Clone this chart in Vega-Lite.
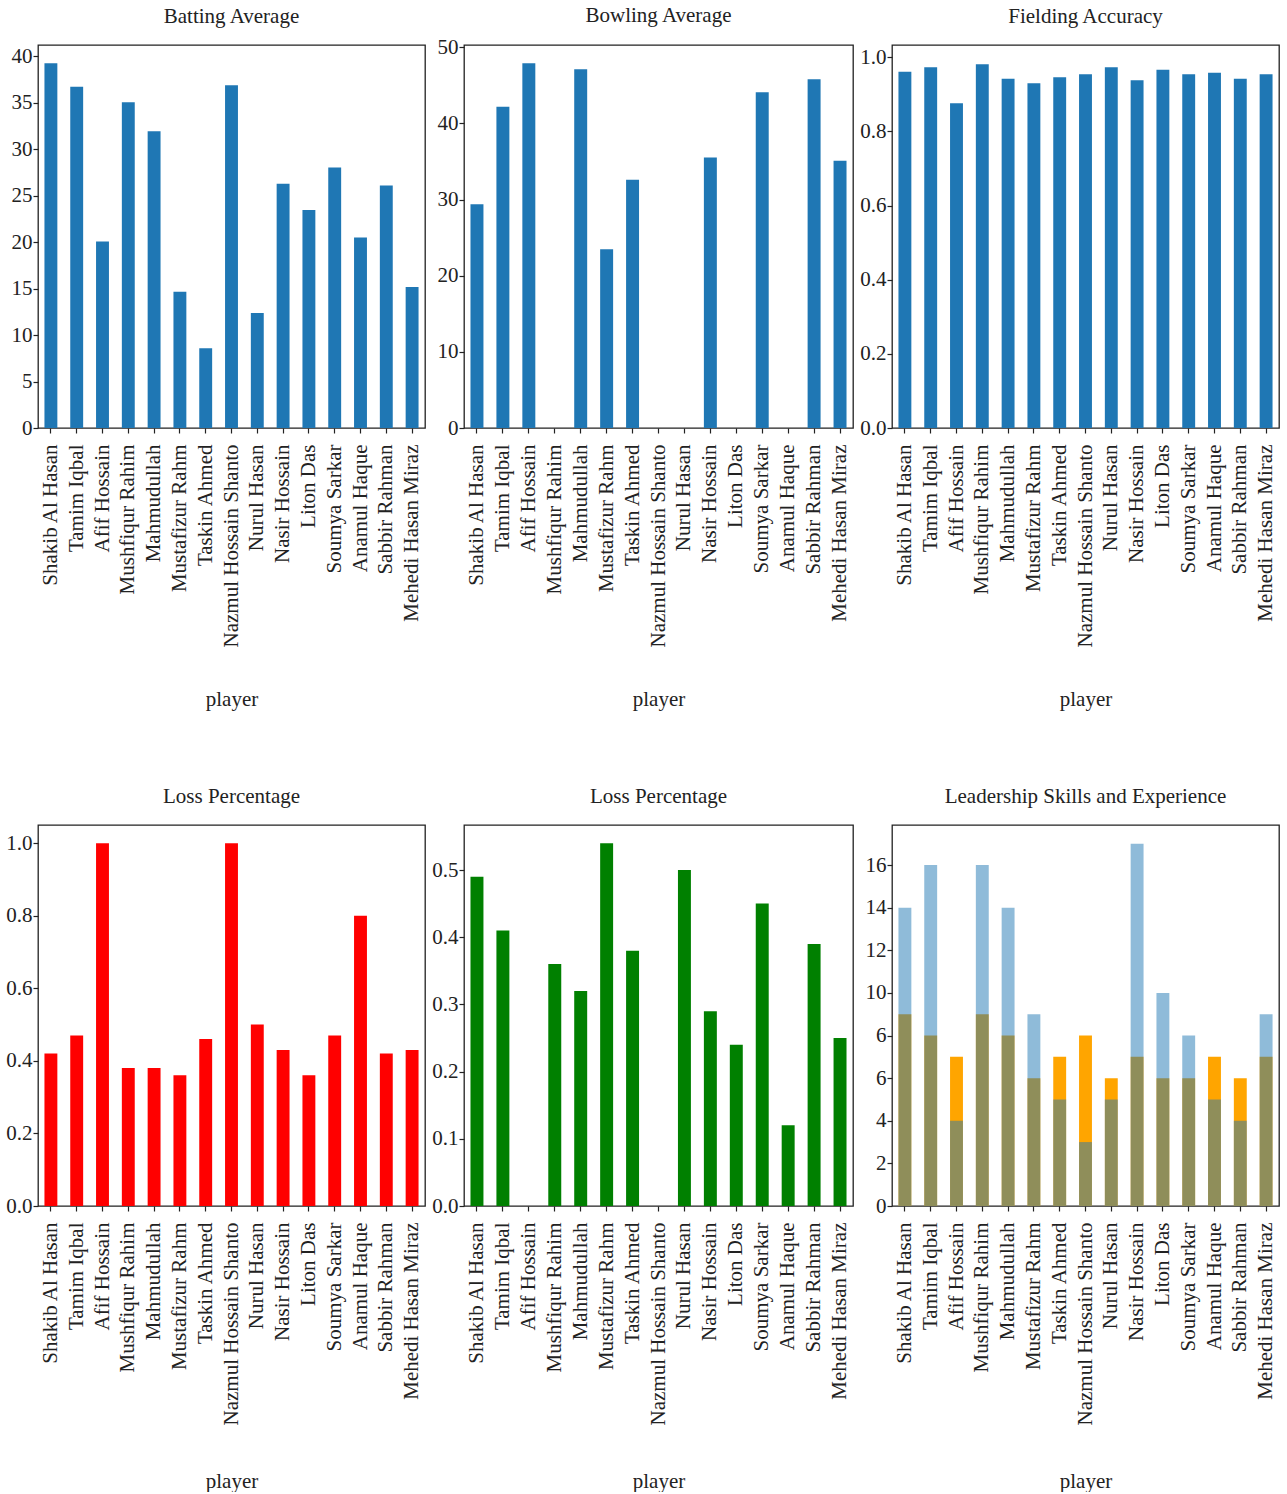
{
  "$schema": "https://vega.github.io/schema/vega-lite/v6.json",
  "background": "white",
  "padding": {"left": 5, "top": 4, "right": 5, "bottom": 0},
  "columns": 3,
  "bounds": "flush",
  "spacing": {"column": 39, "row": 397},
  "data": {"values": [
    {"player": "Shakib Al Hasan", "batting": 39.24, "bowling": 29.39, "fielding": 0.961, "loss1": 0.42, "loss2": 0.49, "leadership": 14, "experience": 9},
    {"player": "Tamim Iqbal", "batting": 36.72, "bowling": 42.19, "fielding": 0.973, "loss1": 0.47, "loss2": 0.41, "leadership": 16, "experience": 8},
    {"player": "Afif Hossain", "batting": 20.05, "bowling": 47.89, "fielding": 0.876, "loss1": 1.0, "loss2": null, "leadership": 4, "experience": 7},
    {"player": "Mushfiqur Rahim", "batting": 35.03, "bowling": null, "fielding": 0.981, "loss1": 0.38, "loss2": 0.36, "leadership": 16, "experience": 9},
    {"player": "Mahmudullah", "batting": 31.91, "bowling": 47.1, "fielding": 0.942, "loss1": 0.38, "loss2": 0.32, "leadership": 14, "experience": 8},
    {"player": "Mustafizur Rahm", "batting": 14.66, "bowling": 23.46, "fielding": 0.930, "loss1": 0.36, "loss2": 0.54, "leadership": 9, "experience": 6},
    {"player": "Taskin Ahmed", "batting": 8.59, "bowling": 32.59, "fielding": 0.946, "loss1": 0.46, "loss2": 0.38, "leadership": 5, "experience": 7},
    {"player": "Nazmul Hossain Shanto", "batting": 36.87, "bowling": null, "fielding": 0.954, "loss1": 1.0, "loss2": null, "leadership": 3, "experience": 8},
    {"player": "Nurul Hasan", "batting": 12.36, "bowling": null, "fielding": 0.973, "loss1": 0.5, "loss2": 0.5, "leadership": 5, "experience": 6},
    {"player": "Nasir Hossain", "batting": 26.27, "bowling": 35.53, "fielding": 0.938, "loss1": 0.43, "loss2": 0.29, "leadership": 17, "experience": 7},
    {"player": "Liton Das", "batting": 23.46, "bowling": null, "fielding": 0.966, "loss1": 0.36, "loss2": 0.24, "leadership": 10, "experience": 6},
    {"player": "Soumya Sarkar", "batting": 28.03, "bowling": 44.08, "fielding": 0.954, "loss1": 0.47, "loss2": 0.45, "leadership": 8, "experience": 6},
    {"player": "Anamul Haque", "batting": 20.48, "bowling": null, "fielding": 0.958, "loss1": 0.8, "loss2": 0.12, "leadership": 5, "experience": 7},
    {"player": "Sabbir Rahman", "batting": 26.09, "bowling": 45.79, "fielding": 0.942, "loss1": 0.42, "loss2": 0.39, "leadership": 4, "experience": 6},
    {"player": "Mehedi Hasan Miraz", "batting": 15.16, "bowling": 35.09, "fielding": 0.954, "loss1": 0.43, "loss2": 0.25, "leadership": 9, "experience": 7}
  ]},
  "concat": [
    {
      "width": 387, "height": 383,
      "title": {"text": "Batting Average"},
      "mark": {"type": "bar", "color": "#1f77b4"},
      "encoding": {
        "x": {"field": "player", "type": "nominal", "sort": null,
              "scale": {"domain": ["Shakib Al Hasan","Tamim Iqbal","Afif Hossain","Mushfiqur Rahim","Mahmudullah","Mustafizur Rahm","Taskin Ahmed","Nazmul Hossain Shanto","Nurul Hasan","Nasir Hossain","Liton Das","Soumya Sarkar","Anamul Haque","Sabbir Rahman","Mehedi Hasan Miraz"], "paddingInner": 0.5, "paddingOuter": 0.25},
              "axis": {"title": "player", "titleY": 277}},
        "y": {"field": "batting", "type": "quantitative",
              "scale": {"domain": [0, 41.2], "nice": false},
              "axis": {"title": null, "values": [0, 5, 10, 15, 20, 25, 30, 35, 40]}}
      }
    },
    {
      "width": 389, "height": 383,
      "title": {"text": "Bowling Average", "offset": 10.5},
      "mark": {"type": "bar", "color": "#1f77b4"},
      "encoding": {
        "x": {"field": "player", "type": "nominal", "sort": null,
              "scale": {"domain": ["Shakib Al Hasan","Tamim Iqbal","Afif Hossain","Mushfiqur Rahim","Mahmudullah","Mustafizur Rahm","Taskin Ahmed","Nazmul Hossain Shanto","Nurul Hasan","Nasir Hossain","Liton Das","Soumya Sarkar","Anamul Haque","Sabbir Rahman","Mehedi Hasan Miraz"], "paddingInner": 0.5, "paddingOuter": 0.25},
              "axis": {"title": "player", "titleY": 277}},
        "y": {"field": "bowling", "type": "quantitative",
              "scale": {"domain": [0, 50.3], "nice": false},
              "axis": {"title": null, "values": [0, 10, 20, 30, 40, 50]}}
      }
    },
    {
      "width": 387, "height": 383,
      "title": {"text": "Fielding Accuracy"},
      "mark": {"type": "bar", "color": "#1f77b4"},
      "encoding": {
        "x": {"field": "player", "type": "nominal", "sort": null,
              "scale": {"domain": ["Shakib Al Hasan","Tamim Iqbal","Afif Hossain","Mushfiqur Rahim","Mahmudullah","Mustafizur Rahm","Taskin Ahmed","Nazmul Hossain Shanto","Nurul Hasan","Nasir Hossain","Liton Das","Soumya Sarkar","Anamul Haque","Sabbir Rahman","Mehedi Hasan Miraz"], "paddingInner": 0.5, "paddingOuter": 0.25},
              "axis": {"title": "player", "titleY": 277}},
        "y": {"field": "fielding", "type": "quantitative",
              "scale": {"domain": [0, 1.033], "nice": false},
              "axis": {"title": null, "values": [0, 0.2, 0.4, 0.6, 0.8, 1.0], "format": ".1f"}}
      }
    },
    {
      "width": 387, "height": 381,
      "title": {"text": "Loss Percentage"},
      "mark": {"type": "bar", "color": "#ff0000"},
      "encoding": {
        "x": {"field": "player", "type": "nominal", "sort": null,
              "scale": {"domain": ["Shakib Al Hasan","Tamim Iqbal","Afif Hossain","Mushfiqur Rahim","Mahmudullah","Mustafizur Rahm","Taskin Ahmed","Nazmul Hossain Shanto","Nurul Hasan","Nasir Hossain","Liton Das","Soumya Sarkar","Anamul Haque","Sabbir Rahman","Mehedi Hasan Miraz"], "paddingInner": 0.5, "paddingOuter": 0.25},
              "axis": {"title": "player", "titleY": 281}},
        "y": {"field": "loss1", "type": "quantitative",
              "scale": {"domain": [0, 1.05], "nice": false},
              "axis": {"title": null, "values": [0, 0.2, 0.4, 0.6, 0.8, 1.0], "format": ".1f"}}
      }
    },
    {
      "width": 389, "height": 381,
      "title": {"text": "Loss Percentage"},
      "mark": {"type": "bar", "color": "#008000"},
      "encoding": {
        "x": {"field": "player", "type": "nominal", "sort": null,
              "scale": {"domain": ["Shakib Al Hasan","Tamim Iqbal","Afif Hossain","Mushfiqur Rahim","Mahmudullah","Mustafizur Rahm","Taskin Ahmed","Nazmul Hossain Shanto","Nurul Hasan","Nasir Hossain","Liton Das","Soumya Sarkar","Anamul Haque","Sabbir Rahman","Mehedi Hasan Miraz"], "paddingInner": 0.5, "paddingOuter": 0.25},
              "axis": {"title": "player", "titleY": 281}},
        "y": {"field": "loss2", "type": "quantitative",
              "scale": {"domain": [0, 0.567], "nice": false},
              "axis": {"title": null, "values": [0, 0.1, 0.2, 0.3, 0.4, 0.5], "format": ".1f"}}
      }
    },
    {
      "width": 387, "height": 381,
      "title": {"text": "Leadership Skills and Experience"},
      "encoding": {
        "x": {"field": "player", "type": "nominal", "sort": null,
              "scale": {"domain": ["Shakib Al Hasan","Tamim Iqbal","Afif Hossain","Mushfiqur Rahim","Mahmudullah","Mustafizur Rahm","Taskin Ahmed","Nazmul Hossain Shanto","Nurul Hasan","Nasir Hossain","Liton Das","Soumya Sarkar","Anamul Haque","Sabbir Rahman","Mehedi Hasan Miraz"], "paddingInner": 0.5, "paddingOuter": 0.25},
              "axis": {"title": "player", "titleY": 281}}
      },
      "layer": [
        {
          "mark": {"type": "bar", "color": "#ffa500"},
          "encoding": {
            "y": {"field": "experience", "type": "quantitative",
                  "scale": {"domain": [0, 17.88], "nice": false},
                  "axis": {"title": null, "values": [0, 2, 4, 6, 8, 10, 12, 14, 16], "labelExpr": "datum.value == 8 ? '6' : datum.label"}}
          }
        },
        {
          "mark": {"type": "bar", "color": "#1f77b4", "opacity": 0.5},
          "encoding": {
            "y": {"field": "leadership", "type": "quantitative"}
          }
        }
      ]
    }
  ],
  "config": {
    "font": "Liberation Serif",
    "view": {"stroke": "#222222", "strokeWidth": 1.3},
    "title": {"font": "Liberation Serif", "fontSize": 21, "fontWeight": "normal", "color": "#222222", "anchor": "middle", "frame": "group", "baseline": "alphabetic", "offset": 18},
    "axis": {
      "labelFont": "Liberation Serif", "labelFontSize": 21, "labelColor": "#222222",
      "titleFont": "Liberation Serif", "titleFontSize": 21, "titleFontWeight": "normal", "titleColor": "#222222",
      "tickColor": "#222222", "tickSize": 5, "tickWidth": 1.2,
      "domain": false, "grid": false, "labelOverlap": false, "labelLimit": 0
    },
    "axisY": {"labelPadding": 1},
    "axisX": {"labelAngle": -90, "labelPadding": 11, "titleBaseline": "alphabetic"}
  }
}
